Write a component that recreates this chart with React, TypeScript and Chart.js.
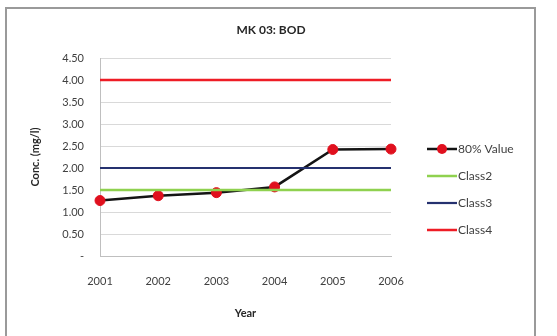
import React, { useEffect, useRef } from "react";
import { Chart, registerables } from "chart.js";

Chart.register(...registerables);

// Monitoring station MK 03 — biochemical oxygen demand
const years = ["2001", "2002", "2003", "2004", "2005", "2006"];
const value80 = [1.26, 1.37, 1.44, 1.57, 2.42, 2.43];
const class2 = [1.5, 1.5, 1.5, 1.5, 1.5, 1.5];
const class3 = [2.0, 2.0, 2.0, 2.0, 2.0, 2.0];
const class4 = [4.0, 4.0, 4.0, 4.0, 4.0, 4.0];
const seriesNames = ["80% Value", "Class2", "Class3", "Class4"];

const FONT = "Lato, 'Liberation Sans', sans-serif";
const TEXT = "#404040";

// Legend drawn beside the plot area, one row per dataset
const sideLegend = {
  id: "sideLegend",
  afterDraw(chart: any) {
    const { ctx, chartArea } = chart;
    const x0 = chartArea.right + 36;
    const lineLen = 30;
    ctx.save();
    ctx.font = `12px ${FONT}`;
    ctx.textBaseline = "middle";
    ctx.textAlign = "left";
    chart.data.datasets.forEach((ds: any, i: number) => {
      const y = chartArea.top + 91 + i * 27;
      ctx.strokeStyle = ds.borderColor;
      ctx.lineWidth = ds.borderWidth;
      ctx.beginPath();
      ctx.moveTo(x0, y);
      ctx.lineTo(x0 + lineLen, y);
      ctx.stroke();
      if (ds.pointRadius > 0) {
        ctx.fillStyle = ds.pointBackgroundColor;
        ctx.beginPath();
        ctx.arc(x0 + lineLen / 2, y, ds.pointRadius, 0, Math.PI * 2);
        ctx.fill();
      }
      ctx.fillStyle = TEXT;
      ctx.fillText(ds.label, x0 + lineLen + 1, y + 0.5);
    });
    ctx.restore();
  },
};

export default function App() {
  const canvasRef = useRef<HTMLCanvasElement | null>(null);

  useEffect(() => {
    const canvas = canvasRef.current;
    if (!canvas) return;
    const chart = new Chart(canvas, {
      type: "line",
      data: {
        labels: years,
        datasets: [
          {
            label: seriesNames[0],
            data: value80,
            borderColor: "#141414",
            borderWidth: 2.5,
            pointRadius: 5,
            pointBackgroundColor: "#e0101e",
            pointBorderColor: "#e0101e",
            pointBorderWidth: 1,
            tension: 0,
            order: 4,
          },
          {
            label: seriesNames[1],
            data: class2,
            borderColor: "#8fd14f",
            borderWidth: 2.5,
            pointRadius: 0,
            order: 3,
          },
          {
            label: seriesNames[2],
            data: class3,
            borderColor: "#25316f",
            borderWidth: 2.2,
            pointRadius: 0,
            order: 2,
          },
          {
            label: seriesNames[3],
            data: class4,
            borderColor: "#ee1c25",
            borderWidth: 2.5,
            pointRadius: 0,
            order: 1,
          },
        ],
      },
      options: {
        animation: false,
        responsive: false,
        maintainAspectRatio: false,
        layout: { padding: { left: 0, right: 15, top: 0, bottom: 0 } },
        plugins: {
          legend: { display: false },
          tooltip: { enabled: false },
          title: {
            display: true,
            text: "MK 03: BOD",
            color: "#262626",
            font: { family: FONT, size: 12, weight: "bold" },
            padding: { top: 22.8, bottom: 20.8 },
          },
        },
        scales: {
          x: {
            offset: false,
            grid: { display: false, drawTicks: false },
            border: { display: true, color: "#bfbfbf", width: 1 },
            ticks: {
              color: TEXT,
              font: { family: FONT, size: 11 },
              padding: 19,
              maxRotation: 0,
            },
            title: {
              display: true,
              text: "Year",
              color: "#262626",
              font: { family: FONT, size: 11, weight: "bold" },
              padding: { top: 0, bottom: 16.4 },
            },
            afterFit(scale: any) {
              scale.height = 80;
            },
          },
          y: {
            min: 0,
            max: 4.5,
            grid: { color: "#d9d9d9", lineWidth: 1, drawTicks: false },
            border: { display: true, color: "#bfbfbf", width: 1 },
            ticks: {
              stepSize: 0.5,
              color: TEXT,
              font: { family: FONT, size: 11 },
              padding: 16,
              callback: (v: any) => (Number(v) === 0 ? "-" : Number(v).toFixed(2)),
            },
            title: {
              display: true,
              text: "Conc. (mg/l)",
              color: "#262626",
              font: { family: FONT, size: 11, weight: "bold" },
              padding: { top: 28.4, bottom: 0 },
            },
            afterFit(scale: any) {
              scale.width = 100;
            },
          },
          // empty right-hand column that holds the legend
          side: {
            type: "linear",
            position: "right",
            display: true,
            grid: { display: false },
            border: { display: false },
            ticks: { display: false },
            afterFit(scale: any) {
              scale.width = 151;
            },
          },
        },
      },
      plugins: [sideLegend],
    } as any);
    return () => chart.destroy();
  }, []);

  return (
    <div
      style={{
        position: "absolute",
        left: 0,
        top: 0,
        width: 557,
        height: 336,
        overflow: "hidden",
        background: "#ffffff",
      }}
    >
      <div
        style={{
          position: "absolute",
          left: 5,
          top: 7,
          width: 527,
          height: 340,
          border: "2px solid #9a9a9a",
          background: "#ffffff",
        }}
      />
      <canvas
        ref={canvasRef}
        width={557}
        height={336}
        style={{ position: "absolute", left: 0, top: 0, width: 557, height: 336 }}
      />
    </div>
  );
}
